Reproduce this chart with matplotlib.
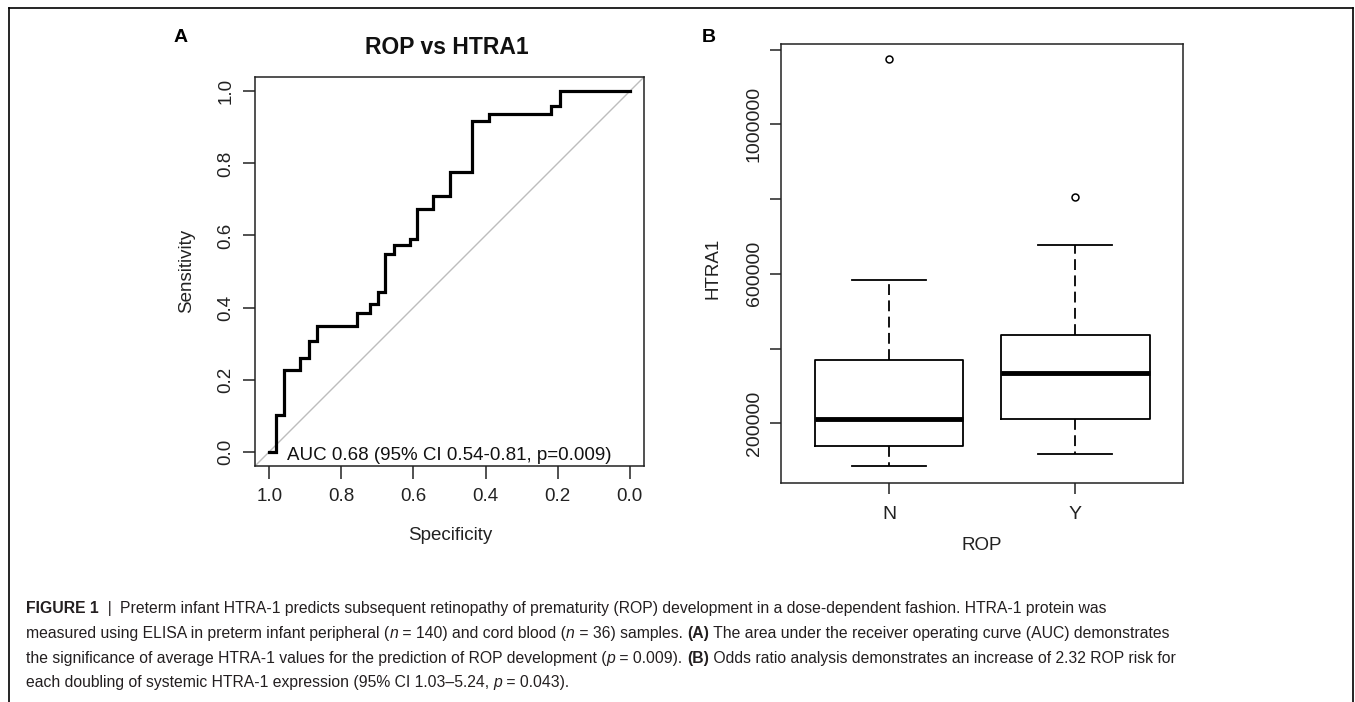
import matplotlib
matplotlib.use('Agg')
import matplotlib.pyplot as plt
from matplotlib import font_manager
from matplotlib.lines import Line2D
from matplotlib.ticker import FixedLocator, FixedFormatter

# ---------------- data ----------------
# ROC curve corner points (specificity, sensitivity), drawn as steps
roc_specificity = [1.000, 0.983, 0.960, 0.914, 0.891, 0.868, 0.758, 0.721, 0.699,
                   0.678, 0.655, 0.610, 0.590, 0.545, 0.499, 0.437, 0.391, 0.217,
                   0.194, 0.000]
roc_sensitivity = [0.000, 0.102, 0.227, 0.261, 0.306, 0.350, 0.386, 0.410, 0.443,
                   0.549, 0.574, 0.590, 0.673, 0.711, 0.775, 0.919, 0.938, 0.960,
                   1.000, 1.000]
roc_ticks = [1.0, 0.8, 0.6, 0.4, 0.2, 0.0]
roc_ticklabels = ['1.0', '0.8', '0.6', '0.4', '0.2', '0.0']
auc_text = 'AUC 0.68 (95% CI 0.54-0.81, p=0.009)'

# Boxplot summary statistics for HTRA1 by ROP group
box_groups = ['N', 'Y']
box_whislo = [85100, 118800]
box_q1 = [140200, 211600]
box_med = [211600, 334700]
box_q3 = [369500, 435500]
box_whishi = [584400, 677200]
box_fliers = [[1174000], [806400]]
box_yticks = [200000, 400000, 600000, 800000, 1000000, 1200000]
box_yticklabels = ['200000', '', '600000', '', '1000000', '']

caption_lines = [
    [('FIGURE 1', 'b'), ('  |  ', ''),
     ('Preterm infant HTRA-1 predicts subsequent retinopathy of prematurity (ROP) development in a dose-dependent fashion. HTRA-1 protein was', '')],
    [('measured using ELISA in preterm infant peripheral (', ''), ('n', 'i'), (' = 140) and cord blood (', ''),
     ('n', 'i'), (' = 36) samples. ', ''), ('(A)', 'b'),
     (' The area under the receiver operating curve (AUC) demonstrates', '')],
    [('the significance of average HTRA-1 values for the prediction of ROP development (', ''), ('p', 'i'),
     (' = 0.009). ', ''), ('(B)', 'b'), (' Odds ratio analysis demonstrates an increase of 2.32 ROP risk for', '')],
    [('each doubling of systemic HTRA-1 expression (95% CI 1.03\u20135.24, ', ''), ('p', 'i'), (' = 0.043).', '')],
]

# ---------------- setup ----------------
W, H = 1355, 702
names = {f.name for f in font_manager.fontManager.ttflist}
CAP_FONT = 'Liberation Sans Narrow' if 'Liberation Sans Narrow' in names else 'Liberation Sans'
plt.rcParams['font.family'] = ['Liberation Sans', 'DejaVu Sans']

fig = plt.figure(figsize=(W / 100, H / 100), dpi=100)


def fx(x):
    return x / W


def fy(y):
    return 1 - y / H


# outer frame (left, top, right)
for xs, ys in [([9, 9], [8, H]), ([9, 1353], [8, 8]), ([1353, 1353], [8, H])]:
    fig.add_artist(Line2D([fx(v) for v in xs], [fy(v) for v in ys],
                          transform=fig.transFigure, color='black', lw=1.2))

# ---------------- panel A: ROC ----------------
axA = fig.add_axes([fx(255), fy(466), fx(644) - fx(255), fy(77) - fy(466)])
axA.set_xlim(1.04, -0.04)
axA.set_ylim(-0.04, 1.04)
axA.plot([1.04, -0.04], [-0.04, 1.04], color='#BDBDBD', lw=1.0, zorder=1)
axA.plot(roc_specificity, roc_sensitivity, drawstyle='steps-post', color='black',
         lw=2.3, zorder=2, solid_joinstyle='miter')
axA.text(0.5, -0.012, auc_text, ha='center', va='center', fontsize=13.5, color='#111111')
axA.set_xticks(roc_ticks)
axA.set_xticklabels(roc_ticklabels)
axA.set_yticks(roc_ticks)
axA.set_yticklabels(roc_ticklabels)
for lab in axA.get_yticklabels():
    lab.set_rotation(90)
    lab.set_va('center')
axA.tick_params(axis='both', direction='out', length=9, width=1.1, labelsize=13.5,
                color='#222222', labelcolor='#222222')
axA.tick_params(axis='x', pad=7)
axA.tick_params(axis='y', pad=6)
for s in axA.spines.values():
    s.set_linewidth(1.1)
    s.set_color('#222222')
fig.text(fx(450), fy(535), 'Specificity', ha='center', va='center', fontsize=13.5, color='#222222')
fig.text(fx(187), fy(271), 'Sensitivity', ha='center', va='center', rotation=90,
         fontsize=13.5, color='#222222')
fig.text(fx(447), fy(47), 'ROP vs HTRA1', ha='center', va='center', fontsize=16.5,
         fontweight='bold', color='#111111')
fig.text(fx(181), fy(38), 'A', ha='center', va='center', fontsize=14, fontweight='bold')

# ---------------- panel B: boxplot ----------------
axB = fig.add_axes([fx(781), fy(483.3), fx(1183) - fx(781), fy(44) - fy(483.3)])
stats = []
for i, g in enumerate(box_groups):
    stats.append(dict(label=g, whislo=box_whislo[i], q1=box_q1[i], med=box_med[i],
                      q3=box_q3[i], whishi=box_whishi[i], fliers=box_fliers[i]))
axB.bxp(stats, positions=[1, 2], widths=0.8, capwidths=0.4, showfliers=True,
        boxprops=dict(color='black', lw=1.3),
        medianprops=dict(color='black', lw=3.5, solid_capstyle='butt'),
        whiskerprops=dict(color='black', lw=1.3, linestyle=(0, (6, 3))),
        capprops=dict(color='black', lw=1.3),
        flierprops=dict(marker='o', markerfacecolor='none', markeredgecolor='black',
                        markersize=5, markeredgewidth=1.1))
axB.set_xlim(0.42, 2.58)
axB.set_ylim(39600, 1215000)
axB.yaxis.set_major_locator(FixedLocator(box_yticks))
axB.yaxis.set_major_formatter(FixedFormatter(box_yticklabels))
axB.set_xticks([1, 2])
axB.set_xticklabels(box_groups)
for lab in axB.get_yticklabels():
    lab.set_rotation(90)
    lab.set_va('center')
axB.tick_params(axis='both', direction='out', length=8, width=1.1, labelsize=14,
                color='#222222', labelcolor='#222222')
axB.tick_params(axis='x', pad=8)
axB.tick_params(axis='y', pad=5)
for s in axB.spines.values():
    s.set_linewidth(1.1)
    s.set_color('#222222')
fig.text(fx(982), fy(545), 'ROP', ha='center', va='center', fontsize=13.5, color='#222222')
fig.text(fx(713), fy(268), 'HTRA1', ha='center', va='center', rotation=90,
         fontsize=13.5, color='#222222')
fig.text(fx(709), fy(38), 'B', ha='center', va='center', fontsize=14, fontweight='bold')

# ---------------- caption ----------------
renderer = fig.canvas.get_renderer()


def run_width(txt, style, size):
    kw = dict(fontsize=size, family=[CAP_FONT, 'DejaVu Sans'],
              fontweight='bold' if 'b' in style else 'normal',
              fontstyle='italic' if 'i' in style else 'normal')
    t1 = fig.text(0, 0, 'x' + txt + 'x', **kw)
    t2 = fig.text(0, 0, 'xx', **kw)
    w = t1.get_window_extent(renderer).width - t2.get_window_extent(renderer).width
    t1.remove()
    t2.remove()
    return w


def line_width(runs, size):
    return sum(run_width(t, s, size) for t, s in runs)


base = 10.0
wref = line_width(caption_lines[2], base)
cap_size = base * (1178 - 26) / wref

baselines = [613, 638, 662.5, 687]
for runs, yb in zip(caption_lines, baselines):
    x = 26
    for txt, style in runs:
        fig.text(fx(x), fy(yb), txt, fontsize=cap_size, family=[CAP_FONT, 'DejaVu Sans'],
                 fontweight='bold' if 'b' in style else 'normal',
                 fontstyle='italic' if 'i' in style else 'normal',
                 ha='left', va='baseline', color='#231F20')
        x += run_width(txt, style, cap_size)

fig.savefig('out.png', dpi=100)
